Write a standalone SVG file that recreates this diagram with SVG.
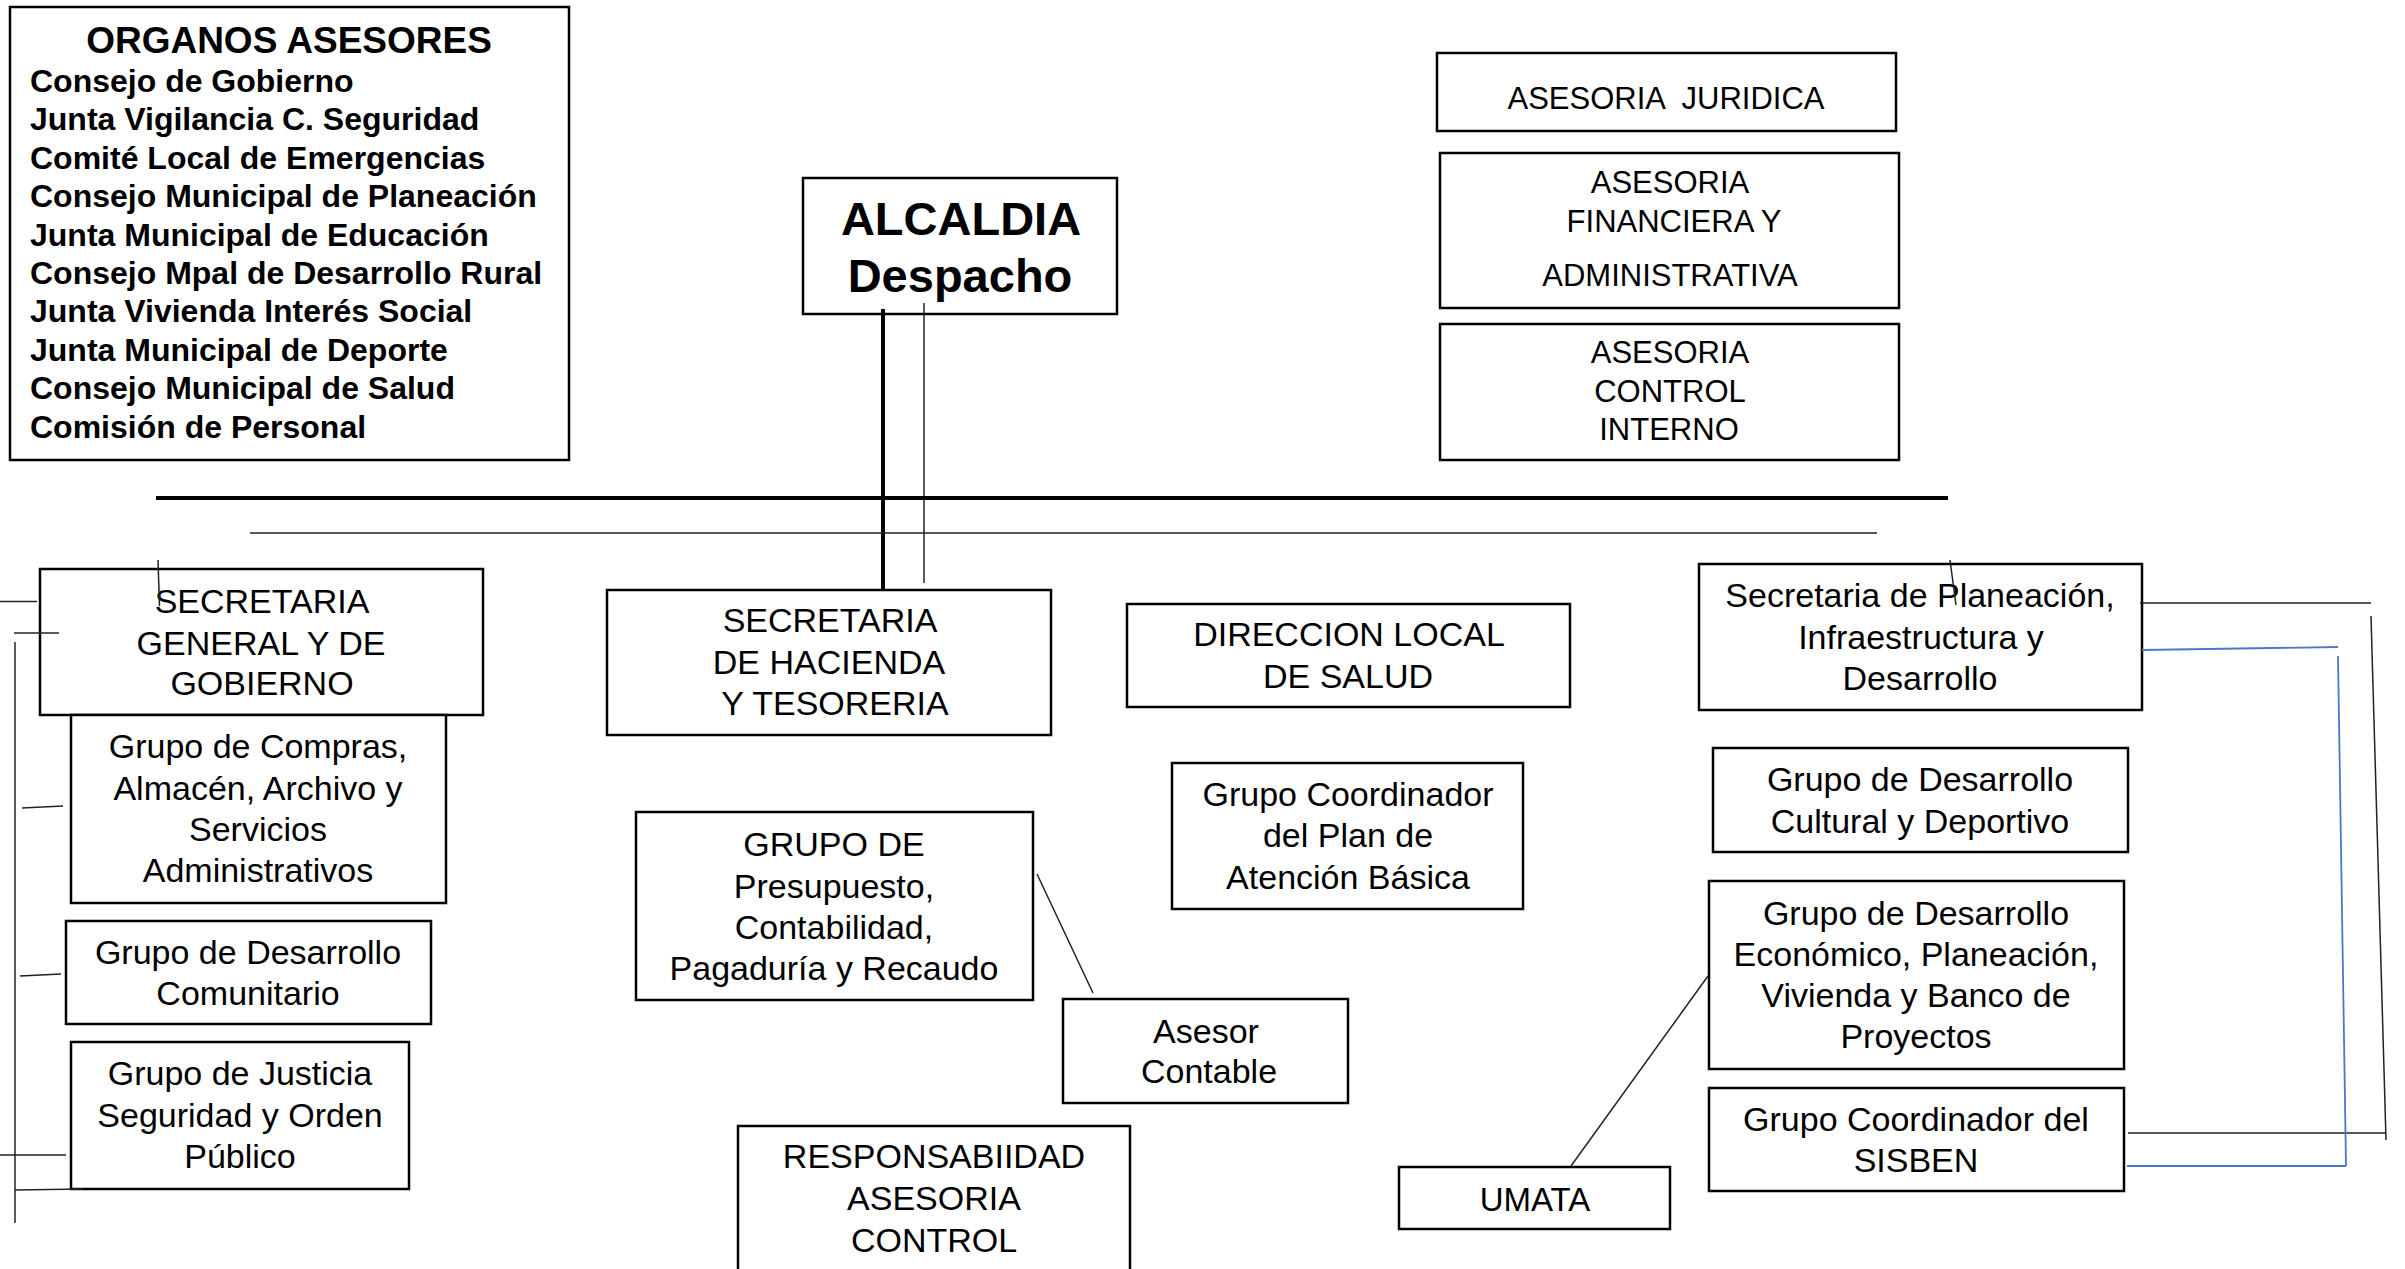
<svg xmlns="http://www.w3.org/2000/svg" width="2405" height="1269" viewBox="0 0 2405 1269">
<style>
  .box { fill: #fff; stroke: #000; stroke-width: 2.5; }
  text { font-family: "Liberation Sans", Arial, sans-serif; fill: #000; }
  .t { font-size: 34px; text-anchor: middle; }
  .t31 { font-size: 31px; text-anchor: middle; white-space: pre; }
  .lst { font-size: 32px; font-weight: bold; }
  .ttl { font-size: 37px; font-weight: bold; text-anchor: middle; }
  .big { font-size: 47px; font-weight: bold; text-anchor: middle; }
  .thick { stroke: #000; stroke-width: 4; fill: none; }
  .thin { stroke: #222; stroke-width: 1.5; fill: none; }
  .blue { stroke: #4a78cc; stroke-width: 1.8; fill: none; }
</style>
<rect width="2405" height="1269" fill="#fff"/>

<g id="organos">
  <rect class="box" x="10" y="7" width="559" height="453"/>
  <text class="ttl" x="289" y="53">ORGANOS ASESORES</text>
  <text class="lst" x="30" y="92">Consejo de Gobierno</text>
  <text class="lst" x="30" y="130.4">Junta Vigilancia C. Seguridad</text>
  <text class="lst" x="30" y="168.8">Comité Local de Emergencias</text>
  <text class="lst" x="30" y="207.2">Consejo Municipal de Planeación</text>
  <text class="lst" x="30" y="245.6">Junta Municipal de Educación</text>
  <text class="lst" x="30" y="284">Consejo Mpal de Desarrollo Rural</text>
  <text class="lst" x="30" y="322.4">Junta Vivienda Interés Social</text>
  <text class="lst" x="30" y="360.8">Junta Municipal de Deporte</text>
  <text class="lst" x="30" y="399.2">Consejo Municipal de Salud</text>
  <text class="lst" x="30" y="437.6">Comisión de Personal</text>
</g>

<g id="alcaldia">
  <rect class="box" x="803" y="178" width="314" height="136"/>
  <text class="big" x="961" y="235">ALCALDIA</text>
  <text class="big" x="960" y="292">Despacho</text>
</g>

<g id="asesoria-juridica">
  <rect class="box" x="1437" y="53" width="459" height="78"/>
  <text class="t31" x="1666" y="109">ASESORIA  JURIDICA</text>
</g>

<g id="asesoria-financiera">
  <rect class="box" x="1440" y="153" width="459" height="155"/>
  <text class="t31" x="1670" y="193">ASESORIA</text>
  <text class="t31" x="1674" y="232">FINANCIERA Y</text>
  <text class="t31" x="1670" y="286">ADMINISTRATIVA</text>
</g>

<g id="asesoria-control">
  <rect class="box" x="1440" y="324" width="459" height="136"/>
  <text class="t31" x="1670" y="363">ASESORIA</text>
  <text class="t31" x="1670" y="402">CONTROL</text>
  <text class="t31" x="1669" y="440">INTERNO</text>
</g>

<g id="sec-general">
  <rect class="box" x="40" y="569" width="443" height="146"/>
  <text class="t" x="262" y="613">SECRETARIA</text>
  <text class="t" x="261" y="655">GENERAL Y DE</text>
  <text class="t" x="262" y="695">GOBIERNO</text>
</g>

<g id="grupo-compras">
  <rect class="box" x="71" y="715" width="375" height="188"/>
  <text class="t" x="258" y="758">Grupo de Compras,</text>
  <text class="t" x="258" y="800">Almacén, Archivo y</text>
  <text class="t" x="258" y="841">Servicios</text>
  <text class="t" x="258" y="882">Administrativos</text>
</g>

<g id="grupo-comunitario">
  <rect class="box" x="66" y="921" width="365" height="103"/>
  <text class="t" x="248" y="964">Grupo de Desarrollo</text>
  <text class="t" x="248" y="1005">Comunitario</text>
</g>

<g id="grupo-justicia">
  <rect class="box" x="71" y="1042" width="338" height="147"/>
  <text class="t" x="240" y="1085">Grupo de Justicia</text>
  <text class="t" x="240" y="1127">Seguridad y Orden</text>
  <text class="t" x="240" y="1168">Público</text>
</g>

<g id="sec-hacienda">
  <rect class="box" x="607" y="590" width="444" height="145"/>
  <text class="t" x="830" y="632">SECRETARIA</text>
  <text class="t" x="829" y="674">DE HACIENDA</text>
  <text class="t" x="835" y="715">Y TESORERIA</text>
</g>

<g id="grupo-presupuesto">
  <rect class="box" x="636" y="812" width="397" height="188"/>
  <text class="t" x="834" y="856">GRUPO DE</text>
  <text class="t" x="834" y="898">Presupuesto,</text>
  <text class="t" x="834" y="939">Contabilidad,</text>
  <text class="t" x="834" y="980">Pagaduría y Recaudo</text>
</g>

<g id="asesor-contable">
  <rect class="box" x="1063" y="999" width="285" height="104"/>
  <text class="t" x="1206" y="1043">Asesor</text>
  <text class="t" x="1209" y="1083">Contable</text>
</g>

<g id="responsabilidad">
  <rect class="box" x="738" y="1126" width="392" height="160"/>
  <text class="t" x="934" y="1168">RESPONSABIIDAD</text>
  <text class="t" x="934" y="1210">ASESORIA</text>
  <text class="t" x="934" y="1252">CONTROL</text>
</g>

<g id="direccion-salud">
  <rect class="box" x="1127" y="604" width="443" height="103"/>
  <text class="t" x="1349" y="646">DIRECCION LOCAL</text>
  <text class="t" x="1348" y="688">DE SALUD</text>
</g>

<g id="plan-atencion">
  <rect class="box" x="1172" y="763" width="351" height="146"/>
  <text class="t" x="1348" y="806">Grupo Coordinador</text>
  <text class="t" x="1348" y="847">del Plan de</text>
  <text class="t" x="1348" y="889">Atención Básica</text>
</g>

<g id="umata">
  <rect class="box" x="1399" y="1167" width="271" height="62"/>
  <text class="t" x="1535" y="1211" style="font-size:33px">UMATA</text>
</g>

<g id="sec-planeacion">
  <rect class="box" x="1699" y="564" width="443" height="146"/>
  <text class="t" x="1920" y="607">Secretaria de Planeación,</text>
  <text class="t" x="1921" y="649">Infraestructura y</text>
  <text class="t" x="1920" y="690">Desarrollo</text>
</g>

<g id="grupo-cultural">
  <rect class="box" x="1713" y="748" width="415" height="104"/>
  <text class="t" x="1920" y="791">Grupo de Desarrollo</text>
  <text class="t" x="1920" y="833">Cultural y Deportivo</text>
</g>

<g id="grupo-economico">
  <rect class="box" x="1709" y="881" width="415" height="188"/>
  <text class="t" x="1916" y="925">Grupo de Desarrollo</text>
  <text class="t" x="1916" y="966">Económico, Planeación,</text>
  <text class="t" x="1916" y="1007">Vivienda y Banco de</text>
  <text class="t" x="1916" y="1048">Proyectos</text>
</g>

<g id="grupo-sisben">
  <rect class="box" x="1709" y="1088" width="415" height="103"/>
  <text class="t" x="1916" y="1131">Grupo Coordinador del</text>
  <text class="t" x="1916" y="1172">SISBEN</text>
</g>

<g id="connectors">
  <line class="thick" x1="883" y1="309" x2="883" y2="591"/>
  <line class="thin" x1="924" y1="303" x2="924" y2="583"/>
  <line class="thick" x1="156" y1="498" x2="1948" y2="498"/>
  <line class="thin" x1="250" y1="533" x2="1877" y2="533" stroke="#444"/>
  <!-- left side lines -->
  <line class="thin" x1="15" y1="642" x2="15" y2="1223"/>
  <line class="thin" x1="0" y1="601.5" x2="37" y2="601.5"/>
  <line class="thin" x1="14" y1="633" x2="59" y2="633"/>
  <line class="thin" x1="22" y1="808" x2="63" y2="806"/>
  <line class="thin" x1="20" y1="976" x2="61" y2="974"/>
  <line class="thin" x1="0" y1="1155" x2="66" y2="1155"/>
  <line class="thin" x1="15" y1="1190" x2="83" y2="1189"/>
  <line class="thin" x1="158" y1="560" x2="159.5" y2="606"/>
  <!-- middle -->
  <line class="thin" x1="1037" y1="874" x2="1093" y2="993"/>
  <line class="thin" x1="1708" y1="976" x2="1571" y2="1166"/>
  <!-- right side -->
  <line class="thin" x1="1950" y1="560" x2="1956" y2="605"/>
  <line class="thin" x1="2140" y1="603" x2="2371" y2="603"/>
  <line class="thin" x1="2371" y1="616" x2="2386" y2="1140"/>
  <line class="thin" x1="2128" y1="1133" x2="2386" y2="1133"/>
  <line class="blue" x1="2142" y1="650" x2="2338" y2="647"/>
  <line class="blue" x1="2338" y1="656" x2="2346" y2="1166"/>
  <line class="blue" x1="2127" y1="1166" x2="2346" y2="1166"/>
</g>
</svg>
